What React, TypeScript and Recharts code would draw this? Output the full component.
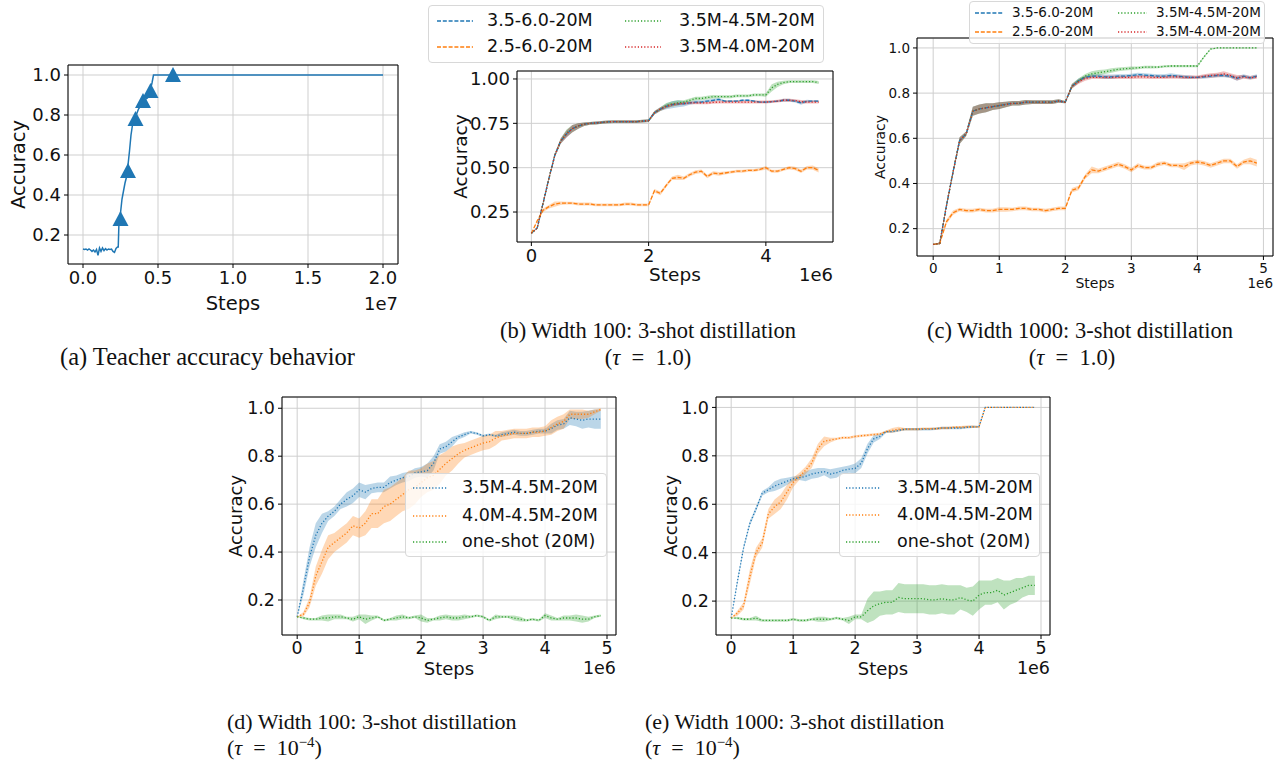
import { Fragment, ReactNode } from "react";
import {
  ComposedChart,
  Line,
  Area,
  Scatter,
  XAxis,
  YAxis,
  CartesianGrid,
  ReferenceArea,
  Legend,
  Label,
} from "recharts";

const FONT = "'DejaVu Sans', sans-serif";
const SERIF = "'Liberation Serif', 'Times New Roman', serif";
const BLUE = "#1f77b4";
const ORANGE = "#ff7f0e";
const GREEN = "#2ca02c";
const RED = "#d62728";
const DASHED = "4 1.8";
const DOTTED = "1.2 2";

// training steps (millions) shared by panels b-e
const stepsM = [
  0, 0.1, 0.2, 0.3, 0.4, 0.5, 0.6, 0.7, 0.8, 0.9, 1.0, 1.1, 1.2, 1.3, 1.4, 1.5, 1.6, 1.7, 1.8, 1.9,
  2.0, 2.1, 2.2, 2.3, 2.4, 2.5, 2.6, 2.7, 2.8, 2.9, 3.0, 3.1, 3.2, 3.3, 3.4, 3.5, 3.6, 3.7, 3.8, 3.9,
  4.0, 4.1, 4.2, 4.3, 4.4, 4.5, 4.6, 4.7, 4.8, 4.9,
];

// (a) teacher accuracy
const teacherStepsM = [
  0, 0.1, 0.2, 0.3, 0.4, 0.5, 0.6, 0.7, 0.8, 0.9, 1.0, 1.1, 1.2, 1.3, 1.4, 1.5, 1.6, 1.7, 1.8, 1.9,
  2.0, 2.1, 2.2, 2.3, 2.35, 2.4, 2.5, 2.6, 2.7, 2.8, 2.9, 3.0, 3.1, 3.2, 3.3, 3.4, 3.5, 3.6, 3.7, 3.8,
  3.9, 4.0, 4.1, 4.2, 4.3, 4.4, 4.5, 4.6, 4.7, 20,
];
const teacherAcc = [
  0.13, 0.128, 0.13, 0.125, 0.13, 0.125, 0.118, 0.125, 0.115, 0.128, 0.098, 0.135, 0.118, 0.135, 0.122, 0.132, 0.125, 0.13, 0.128, 0.13,
  0.118, 0.113, 0.133, 0.14, 0.14, 0.27, 0.31, 0.38, 0.42, 0.46, 0.49, 0.55, 0.62, 0.7, 0.75, 0.77, 0.79, 0.81, 0.83, 0.84,
  0.86, 0.87, 0.875, 0.88, 0.885, 0.9, 0.93, 0.96, 1.0, 1.0,
];
const checkpointStepsM = [2.5, 3.0, 3.5, 4.0, 4.5, 6.0];
const checkpointAcc = [0.28, 0.52, 0.78, 0.87, 0.92, 1.0];

// (b) width 100, tau = 1.0
const bBlue = [0.13,0.16,0.30,0.44,0.57,0.65,0.69,0.72,0.735,0.745, 0.75,0.752,0.755,0.758,0.76,0.76,0.76,0.76,0.76,0.762, 0.765,0.81,0.83,0.845,0.855,0.86,0.86,0.865,0.87,0.87, 0.875,0.88,0.885,0.875,0.875,0.875,0.88,0.88,0.875,0.87, 0.87,0.872,0.875,0.88,0.88,0.875,0.865,0.875,0.875,0.875];
const bOrange = [0.13,0.20,0.26,0.28,0.295,0.30,0.30,0.30,0.295,0.295, 0.295,0.29,0.29,0.29,0.29,0.29,0.295,0.295,0.29,0.29, 0.29,0.37,0.355,0.40,0.44,0.445,0.44,0.46,0.475,0.48, 0.45,0.47,0.465,0.47,0.475,0.48,0.48,0.485,0.485,0.49, 0.50,0.48,0.48,0.49,0.50,0.495,0.48,0.50,0.50,0.485];
const bGreen = [0.13,0.16,0.30,0.44,0.57,0.65,0.695,0.72,0.735,0.745, 0.75,0.752,0.755,0.758,0.76,0.76,0.76,0.76,0.76,0.762, 0.765,0.81,0.83,0.85,0.86,0.865,0.87,0.88,0.89,0.89, 0.895,0.90,0.90,0.90,0.90,0.905,0.905,0.905,0.91,0.91, 0.91,0.95,0.97,0.98,0.985,0.985,0.985,0.985,0.985,0.98];
const bRed = [0.13,0.16,0.30,0.44,0.57,0.65,0.69,0.72,0.735,0.745, 0.75,0.752,0.755,0.758,0.76,0.76,0.76,0.76,0.76,0.762, 0.765,0.81,0.83,0.845,0.855,0.86,0.862,0.865,0.865,0.865, 0.865,0.868,0.87,0.87,0.87,0.87,0.87,0.87,0.87,0.87, 0.87,0.872,0.875,0.88,0.88,0.878,0.872,0.87,0.87,0.87];
const bBlueSd = [0,0.005,0.01,0.01,0.01,0.015,0.02,0.02,0.015,0.01, 0.008,0.008,0.008,0.008,0.008,0.008,0.008,0.008,0.008,0.008, 0.008,0.01,0.01,0.015,0.02,0.02,0.015,0.01,0.01,0.008, 0.008,0.008,0.008,0.005,0.005,0.005,0.005,0.005,0.005,0.005, 0.005,0.005,0.005,0.008,0.008,0.008,0.01,0.008,0.005,0.005];
const bOrangeSd = [0,0.005,0.01,0.01,0.015,0.01,0.008,0.008,0.008,0.008, 0.008,0.008,0.008,0.008,0.008,0.008,0.008,0.008,0.008,0.008, 0.008,0.01,0.01,0.01,0.01,0.015,0.01,0.01,0.01,0.01, 0.01,0.01,0.01,0.008,0.008,0.008,0.008,0.008,0.008,0.008, 0.01,0.008,0.008,0.008,0.01,0.01,0.01,0.01,0.012,0.012];
const bGreenSd = [0,0.005,0.01,0.01,0.01,0.015,0.02,0.02,0.015,0.01, 0.008,0.008,0.008,0.008,0.008,0.008,0.008,0.008,0.008,0.008, 0.008,0.01,0.01,0.015,0.015,0.015,0.01,0.01,0.01,0.01, 0.01,0.01,0.008,0.008,0.008,0.008,0.008,0.008,0.008,0.008, 0.01,0.02,0.015,0.01,0.008,0.008,0.008,0.008,0.008,0.008];
const bRedSd = [0,0.005,0.01,0.01,0.01,0.015,0.02,0.02,0.015,0.01, 0.008,0.008,0.008,0.008,0.008,0.008,0.008,0.008,0.008,0.008, 0.008,0.01,0.01,0.01,0.01,0.008,0.008,0.008,0.008,0.008, 0.008,0.008,0.008,0.008,0.008,0.008,0.008,0.008,0.008,0.008, 0.008,0.008,0.008,0.008,0.008,0.008,0.01,0.008,0.008,0.008];

// (c) width 1000, tau = 1.0
const cBlue = [0.13,0.135,0.30,0.45,0.59,0.62,0.72,0.73,0.735,0.74, 0.745,0.75,0.755,0.755,0.76,0.76,0.76,0.76,0.76,0.765, 0.76,0.83,0.855,0.87,0.875,0.875,0.872,0.872,0.875,0.875, 0.878,0.882,0.88,0.878,0.875,0.875,0.878,0.875,0.872,0.87, 0.87,0.872,0.875,0.878,0.878,0.875,0.865,0.875,0.868,0.875];
const cOrange = [0.13,0.135,0.23,0.27,0.285,0.28,0.28,0.285,0.28,0.28, 0.285,0.285,0.285,0.29,0.29,0.285,0.285,0.28,0.285,0.29, 0.29,0.37,0.38,0.43,0.46,0.455,0.465,0.475,0.485,0.475, 0.46,0.48,0.47,0.47,0.485,0.49,0.48,0.48,0.475,0.49, 0.495,0.49,0.48,0.49,0.50,0.50,0.475,0.495,0.50,0.49];
const cGreen = [0.13,0.135,0.30,0.45,0.59,0.62,0.72,0.73,0.735,0.74, 0.745,0.75,0.755,0.755,0.76,0.76,0.76,0.76,0.76,0.765, 0.76,0.83,0.855,0.875,0.885,0.89,0.895,0.90,0.905,0.908, 0.91,0.912,0.915,0.915,0.915,0.918,0.92,0.92,0.92,0.92, 0.92,0.96,0.995,1.0,1.0,1.0,1.0,1.0,1.0,1.0];
const cRed = [0.13,0.135,0.30,0.45,0.59,0.62,0.72,0.73,0.735,0.74, 0.745,0.75,0.755,0.755,0.76,0.76,0.76,0.76,0.76,0.765, 0.76,0.83,0.85,0.865,0.87,0.87,0.87,0.87,0.87,0.87, 0.87,0.872,0.872,0.87,0.87,0.87,0.872,0.872,0.87,0.87, 0.87,0.875,0.878,0.88,0.885,0.878,0.868,0.872,0.868,0.872];
const cBlueSd = [0,0.005,0.01,0.01,0.015,0.01,0.02,0.02,0.02,0.015, 0.015,0.012,0.01,0.01,0.01,0.008,0.008,0.008,0.008,0.008, 0.005,0.01,0.01,0.008,0.008,0.008,0.01,0.01,0.008,0.008, 0.008,0.008,0.008,0.008,0.008,0.008,0.01,0.008,0.008,0.008, 0.005,0.008,0.008,0.008,0.008,0.008,0.01,0.008,0.008,0.008];
const cOrangeSd = [0,0.005,0.01,0.01,0.008,0.008,0.008,0.008,0.008,0.008, 0.01,0.01,0.008,0.008,0.008,0.008,0.008,0.008,0.008,0.008, 0.008,0.01,0.01,0.01,0.015,0.01,0.01,0.01,0.01,0.01, 0.01,0.01,0.008,0.008,0.01,0.008,0.008,0.008,0.015,0.01, 0.01,0.01,0.01,0.01,0.01,0.01,0.01,0.01,0.015,0.015];
const cGreenSd = [0,0.005,0.01,0.01,0.015,0.01,0.02,0.02,0.02,0.015, 0.015,0.012,0.01,0.01,0.01,0.008,0.008,0.008,0.008,0.008, 0.005,0.01,0.01,0.01,0.012,0.012,0.01,0.01,0.008,0.008, 0.008,0.006,0.006,0.006,0.005,0.005,0.005,0.005,0.005,0.005, 0.005,0.005,0.003,0.002,0.002,0.002,0.002,0.002,0.002,0.002];
const cRedSd = [0,0.005,0.01,0.01,0.015,0.01,0.02,0.02,0.02,0.015, 0.015,0.012,0.01,0.01,0.01,0.008,0.008,0.008,0.008,0.008, 0.005,0.01,0.01,0.01,0.008,0.008,0.008,0.008,0.008,0.008, 0.008,0.008,0.008,0.008,0.008,0.008,0.008,0.008,0.008,0.008, 0.008,0.008,0.01,0.01,0.012,0.01,0.012,0.008,0.008,0.008];

// (d) width 100, tau = 1e-4
const dBlue = [0.13,0.25,0.38,0.47,0.52,0.55,0.57,0.60,0.62,0.635, 0.66,0.65,0.665,0.67,0.67,0.69,0.70,0.71,0.715,0.73, 0.735,0.74,0.77,0.83,0.84,0.86,0.88,0.89,0.90,0.895, 0.885,0.89,0.885,0.89,0.895,0.90,0.895,0.895,0.90,0.905, 0.905,0.915,0.93,0.935,0.96,0.955,0.95,0.955,0.955,0.955];
const dOrange = [0.13,0.14,0.19,0.30,0.36,0.42,0.44,0.46,0.48,0.51, 0.50,0.52,0.56,0.56,0.59,0.60,0.62,0.64,0.66,0.67, 0.69,0.71,0.72,0.745,0.77,0.79,0.81,0.825,0.835,0.845, 0.855,0.86,0.875,0.885,0.89,0.895,0.895,0.895,0.90,0.90, 0.905,0.92,0.935,0.945,0.975,0.975,0.975,0.975,0.985,0.995];
const dGreen = [0.13,0.125,0.12,0.12,0.125,0.125,0.13,0.13,0.125,0.12, 0.13,0.12,0.125,0.13,0.115,0.12,0.125,0.13,0.125,0.13, 0.125,0.115,0.12,0.125,0.13,0.125,0.125,0.13,0.13,0.135, 0.13,0.115,0.13,0.13,0.13,0.125,0.12,0.115,0.12,0.115, 0.135,0.125,0.12,0.125,0.125,0.125,0.12,0.12,0.13,0.135];
const dBlueSd = [0,0.03,0.04,0.05,0.04,0.02,0.02,0.02,0.03,0.03, 0.03,0.03,0.02,0.02,0.02,0.025,0.02,0.02,0.02,0.02, 0.02,0.03,0.03,0.02,0.02,0.02,0.01,0.01,0.005,0.005, 0.005,0.005,0.005,0.01,0.01,0.01,0.01,0.01,0.01,0.01, 0.01,0.02,0.02,0.02,0.03,0.03,0.035,0.035,0.04,0.04];
const dOrangeSd = [0,0.01,0.02,0.04,0.05,0.05,0.04,0.04,0.04,0.04, 0.04,0.05,0.06,0.06,0.07,0.07,0.07,0.07,0.08,0.07, 0.06,0.06,0.06,0.06,0.05,0.05,0.04,0.03,0.03,0.03, 0.03,0.03,0.03,0.02,0.02,0.02,0.02,0.02,0.02,0.02, 0.02,0.03,0.03,0.03,0.02,0.02,0.02,0.015,0.01,0.005];
const dGreenSd = [0,0.005,0.005,0.005,0.01,0.015,0.01,0.01,0.005,0.01, 0.01,0.02,0.01,0.005,0.005,0.005,0.01,0.01,0.005,0.005, 0.015,0.01,0.005,0.01,0.01,0.01,0.01,0.01,0.005,0.005, 0.005,0.005,0.01,0.005,0.005,0.01,0.01,0.005,0.005,0.005, 0.01,0.01,0.005,0.01,0.01,0.015,0.015,0.01,0.005,0.005];

// (e) width 1000, tau = 1e-4
const eBlue = [0.13,0.28,0.42,0.52,0.58,0.645,0.66,0.675,0.685,0.695, 0.705,0.71,0.715,0.725,0.73,0.735,0.725,0.73,0.74,0.745, 0.748,0.77,0.83,0.87,0.88,0.90,0.90,0.905,0.91,0.91, 0.91,0.91,0.91,0.912,0.915,0.915,0.915,0.915,0.918,0.92, 0.92,1.0,1.0,1.0,1.0,1.0,1.0,1.0,1.0,1.0];
const eOrange = [0.13,0.15,0.18,0.30,0.40,0.44,0.56,0.59,0.61,0.65, 0.69,0.715,0.74,0.77,0.83,0.86,0.865,0.87,0.875,0.875, 0.88,0.883,0.885,0.888,0.89,0.90,0.905,0.91,0.91,0.91, 0.91,0.912,0.912,0.912,0.915,0.915,0.918,0.918,0.92,0.92, 0.92,1.0,1.0,1.0,1.0,1.0,1.0,1.0,1.0,1.0];
const eGreen = [0.13,0.13,0.125,0.125,0.13,0.12,0.12,0.12,0.12,0.12, 0.125,0.12,0.12,0.125,0.125,0.125,0.125,0.13,0.125,0.12, 0.135,0.135,0.16,0.18,0.19,0.195,0.195,0.215,0.21,0.21, 0.21,0.21,0.205,0.205,0.21,0.205,0.205,0.215,0.205,0.20, 0.225,0.235,0.235,0.245,0.225,0.235,0.245,0.255,0.265,0.265];
const eBlueSd = [0,0.01,0.01,0.01,0.01,0.01,0.01,0.02,0.02,0.015, 0.01,0.01,0.02,0.02,0.02,0.015,0.02,0.02,0.015,0.015, 0.02,0.02,0.02,0.015,0.01,0.005,0.005,0.005,0.005,0.005, 0.005,0.005,0.005,0.005,0.005,0.005,0.005,0.005,0.005,0.005, 0.003,0,0,0,0,0,0,0,0,0];
const eOrangeSd = [0,0.01,0.015,0.03,0.02,0.02,0.02,0.03,0.03,0.03, 0.02,0.015,0.015,0.02,0.02,0.02,0.01,0.005,0.005,0.005, 0.005,0.005,0.005,0.005,0.005,0.005,0.01,0.01,0.005,0.005, 0.005,0.005,0.005,0.005,0.005,0.005,0.005,0.005,0.005,0.005, 0.003,0,0,0,0,0,0,0,0,0];
const eGreenSd = [0,0.005,0.005,0.005,0.01,0.005,0.005,0.005,0.005,0.005, 0.005,0.005,0.005,0.005,0.01,0.01,0.005,0.005,0.005,0.015, 0.01,0.01,0.05,0.06,0.05,0.05,0.05,0.06,0.06,0.06, 0.06,0.06,0.06,0.06,0.06,0.06,0.06,0.05,0.05,0.06, 0.06,0.05,0.05,0.05,0.06,0.05,0.05,0.04,0.04,0.04];

type Series = { key: string; name: string; color: string; dash: string; mean: number[]; sd: number[] };

const seriesB: Series[] = [
  { key: "s1", name: "3.5-6.0-20M", color: BLUE, dash: DASHED, mean: bBlue, sd: bBlueSd },
  { key: "s2", name: "2.5-6.0-20M", color: ORANGE, dash: DASHED, mean: bOrange, sd: bOrangeSd },
  { key: "s3", name: "3.5M-4.5M-20M", color: GREEN, dash: DOTTED, mean: bGreen, sd: bGreenSd },
  { key: "s4", name: "3.5M-4.0M-20M", color: RED, dash: DOTTED, mean: bRed, sd: bRedSd },
];
const seriesC: Series[] = [
  { key: "s1", name: "3.5-6.0-20M", color: BLUE, dash: DASHED, mean: cBlue, sd: cBlueSd },
  { key: "s2", name: "2.5-6.0-20M", color: ORANGE, dash: DASHED, mean: cOrange, sd: cOrangeSd },
  { key: "s3", name: "3.5M-4.5M-20M", color: GREEN, dash: DOTTED, mean: cGreen, sd: cGreenSd },
  { key: "s4", name: "3.5M-4.0M-20M", color: RED, dash: DOTTED, mean: cRed, sd: cRedSd },
];
const seriesD: Series[] = [
  { key: "s1", name: "3.5M-4.5M-20M", color: BLUE, dash: DOTTED, mean: dBlue, sd: dBlueSd },
  { key: "s2", name: "4.0M-4.5M-20M", color: ORANGE, dash: DOTTED, mean: dOrange, sd: dOrangeSd },
  { key: "s3", name: "one-shot (20M)", color: GREEN, dash: DOTTED, mean: dGreen, sd: dGreenSd },
];
const seriesE: Series[] = [
  { key: "s1", name: "3.5M-4.5M-20M", color: BLUE, dash: DOTTED, mean: eBlue, sd: eBlueSd },
  { key: "s2", name: "4.0M-4.5M-20M", color: ORANGE, dash: DOTTED, mean: eOrange, sd: eOrangeSd },
  { key: "s3", name: "one-shot (20M)", color: GREEN, dash: DOTTED, mean: eGreen, sd: eGreenSd },
];

function buildRows(series: Series[]) {
  return stepsM.map((s, i) => {
    const row: any = { step: s * 1e6 };
    series.forEach((d) => {
      row[d.key] = d.mean[i];
      row[d.key + "Band"] = [d.mean[i] - d.sd[i], d.mean[i] + d.sd[i]];
    });
    return row;
  });
}

const teacherData = teacherStepsM.map((s, i) => ({ step: s * 1e6, acc: teacherAcc[i] }));
const checkpointData = checkpointStepsM.map((s, i) => ({ step: s * 1e6, acc: checkpointAcc[i] }));

type LegendLayout = {
  left: number; top: number; width: number; height: number; fs: number;
  handleW: number; colX: number[]; textX: number[]; rowY: number[];
};

function LegendBox({ series, layout }: { series: Series[]; layout: LegendLayout }) {
  const nRows = layout.rowY.length;
  return (
    <div
      style={{
        position: "relative",
        width: layout.width,
        height: layout.height,
        boxSizing: "border-box",
        background: "rgba(255,255,255,0.8)",
        border: "1px solid #d8d8d8",
        borderRadius: 4,
        fontFamily: FONT,
        fontSize: layout.fs,
        color: "#111",
      }}
    >
      {series.map((s, i) => {
        const c = Math.floor(i / nRows);
        const y = layout.rowY[i % nRows];
        return (
          <Fragment key={s.key}>
            <svg style={{ position: "absolute", left: layout.colX[c], top: y - 4 }} width={layout.handleW} height={8}>
              <line x1={0} y1={4} x2={layout.handleW} y2={4} stroke={s.color} strokeWidth={1.3} strokeDasharray={s.dash} />
            </svg>
            <span style={{ position: "absolute", left: layout.textX[c], top: y, transform: "translateY(-50%)", whiteSpace: "nowrap", lineHeight: 1 }}>
              {s.name}
            </span>
          </Fragment>
        );
      })}
    </div>
  );
}

type PanelProps = {
  box: [number, number, number, number];
  xDomain: [number, number];
  xTicks: number[];
  xFmt: (v: number) => string;
  yDomain: [number, number];
  yTicks: number[];
  yFmt: (v: number) => string;
  fs: number;
  labelFs: number;
  yLabelDx: number;
  xLabelDy: number;
  offsetText: string;
  series?: Series[];
  legend?: LegendLayout;
  children?: ReactNode;
};

const PL = 80;
const PT = 75;
const PR = 20;
const PB = 60;

function Panel(p: PanelProps) {
  const [x0, y0, x1, y1] = p.box;
  const left = x0 - PL;
  const top = y0 - PT;
  const width = x1 - x0 + PL + PR;
  const height = y1 - y0 + PT + PB;
  const tick = { fontSize: p.fs, fill: "#111" };
  const rows = p.series ? buildRows(p.series) : undefined;

  return (
    <div style={{ position: "absolute", left, top, fontFamily: FONT }}>
      <ComposedChart width={width} height={height} data={rows} margin={{ top: PT, right: PR, left: 0, bottom: 0 }}>
        <CartesianGrid stroke="#cfcfcf" strokeWidth={1} />
        <XAxis
          type="number"
          dataKey="step"
          domain={p.xDomain}
          allowDataOverflow
          ticks={p.xTicks}
          interval={0}
          tickFormatter={p.xFmt}
          height={PB}
          tick={tick}
          tickSize={4}
          tickMargin={3}
          stroke="#000"
          axisLine={false}
        >
          <Label
            content={(lp: any) => {
              const vb = lp.viewBox;
              return (
                <text x={vb.x + vb.width / 2} y={vb.y + p.xLabelDy} textAnchor="middle" dominantBaseline="central" fontSize={p.labelFs} fill="#111">
                  Steps
                </text>
              );
            }}
          />
          <Label
            content={(lp: any) => {
              const vb = lp.viewBox;
              return (
                <text x={vb.x + vb.width} y={vb.y + p.xLabelDy} textAnchor="end" dominantBaseline="central" fontSize={p.fs} fill="#111">
                  {p.offsetText}
                </text>
              );
            }}
          />
        </XAxis>
        <YAxis
          type="number"
          domain={p.yDomain}
          allowDataOverflow
          ticks={p.yTicks}
          interval={0}
          tickFormatter={p.yFmt}
          width={PL}
          tick={tick}
          tickSize={4}
          tickMargin={3}
          stroke="#000"
          axisLine={false}
        >
          <Label
            content={(lp: any) => {
              const vb = lp.viewBox;
              const cx = vb.x + vb.width + p.yLabelDx;
              const cy = vb.y + vb.height / 2;
              return (
                <text x={cx} y={cy} transform={`rotate(-90 ${cx} ${cy})`} textAnchor="middle" dominantBaseline="central" fontSize={p.labelFs} fill="#111">
                  Accuracy
                </text>
              );
            }}
          />
        </YAxis>
        {p.series?.map((s) => (
          <Fragment key={s.key}>
            <Area
              dataKey={s.key + "Band"}
              type="linear"
              stroke="none"
              fill={s.color}
              fillOpacity={0.3}
              dot={false}
              activeDot={false}
              legendType="none"
              isAnimationActive={false}
            />
            <Line
              dataKey={s.key}
              type="linear"
              stroke={s.color}
              strokeWidth={1.3}
              strokeDasharray={s.dash}
              dot={false}
              activeDot={false}
              isAnimationActive={false}
            />
          </Fragment>
        ))}
        {p.children}
        <ReferenceArea
          x1={p.xDomain[0]}
          x2={p.xDomain[1]}
          y1={p.yDomain[0]}
          y2={p.yDomain[1]}
          fill="none"
          stroke="#000"
          strokeWidth={1}
          ifOverflow="visible"
        />
        {p.legend && p.series && (
          <Legend
            layout="horizontal"
            verticalAlign="middle"
            align="center"
            content={() => <LegendBox series={p.series as Series[]} layout={p.legend as LegendLayout} />}
            wrapperStyle={{
              left: p.legend.left - left,
              top: p.legend.top - top,
              width: p.legend.width,
              height: p.legend.height,
              right: "auto",
              bottom: "auto",
              margin: 0,
            }}
          />
        )}
      </ComposedChart>
    </div>
  );
}

const fmt1 = (v: number) => v.toFixed(1);
const fmt2 = (v: number) => v.toFixed(2);
const fmtM = (v: number) => String(Math.round(v / 1e6));
const fmt7 = (v: number) => (v / 1e7).toFixed(1);
const STD_X: [number, number] = [-0.245e6, 5.145e6];
const TICKS_5 = [0, 1e6, 2e6, 3e6, 4e6, 5e6];
const TICKS_Y = [0.2, 0.4, 0.6, 0.8, 1.0];

const Triangle = (props: any) => {
  const { cx, cy } = props;
  return <polygon points={`${cx},${cy - 8} ${cx - 8},${cy + 7} ${cx + 8},${cy + 7}`} fill={BLUE} />;
};

const captionStyle = {
  position: "absolute" as const,
  fontFamily: SERIF,
  fontSize: 22,
  lineHeight: "26px",
  whiteSpace: "nowrap" as const,
  color: "#111",
};
const EQ = "\u2002=\u2002";

export default function App() {
  return (
    <div style={{ position: "absolute", left: 0, top: 0, width: 1284, height: 767, background: "#fff", overflow: "hidden" }}>
      <Panel
        box={[68, 65, 398, 264]}
        xDomain={[-1e6, 2.1e7]}
        xTicks={[0, 5e6, 1e7, 1.5e7, 2e7]}
        xFmt={fmt7}
        yDomain={[0.055, 1.05]}
        yTicks={TICKS_Y}
        yFmt={fmt1}
        fs={18}
        labelFs={19.5}
        yLabelDx={-50}
        xLabelDy={39}
        offsetText="1e7"
      >
        <Line data={teacherData} dataKey="acc" type="linear" stroke={BLUE} strokeWidth={1.5} dot={false} activeDot={false} isAnimationActive={false} />
        <Scatter data={checkpointData} dataKey="acc" shape={Triangle} isAnimationActive={false} />
      </Panel>

      <Panel
        box={[517, 71, 833, 242]}
        xDomain={STD_X}
        xTicks={[0, 2e6, 4e6]}
        xFmt={fmtM}
        yDomain={[0.081, 1.045]}
        yTicks={[0.25, 0.5, 0.75, 1.0]}
        yFmt={fmt2}
        fs={18}
        labelFs={18.5}
        yLabelDx={-57}
        xLabelDy={32}
        offsetText="1e6"
        series={seriesB}
        legend={{ left: 428, top: 5, width: 396, height: 58, fs: 17.5, handleW: 36, colX: [8, 196], textX: [58, 250], rowY: [15, 41] }}
      />

      <Panel
        box={[917, 38, 1273, 256]}
        xDomain={STD_X}
        xTicks={TICKS_5}
        xFmt={fmtM}
        yDomain={[0.079, 1.044]}
        yTicks={TICKS_Y}
        yFmt={fmt1}
        fs={13.5}
        labelFs={14}
        yLabelDx={-37}
        xLabelDy={27}
        offsetText="1e6"
        series={seriesC}
        legend={{ left: 969, top: 1, width: 296, height: 43, fs: 13.5, handleW: 29, colX: [5, 148], textX: [42, 186], rowY: [11, 30] }}
      />

      <Panel
        box={[282, 397, 616, 635]}
        xDomain={STD_X}
        xTicks={TICKS_5}
        xFmt={fmtM}
        yDomain={[0.054, 1.047]}
        yTicks={TICKS_Y}
        yFmt={fmt1}
        fs={17.5}
        labelFs={18}
        yLabelDx={-47}
        xLabelDy={33}
        offsetText="1e6"
        series={seriesD}
        legend={{ left: 405, top: 473, width: 202, height: 84, fs: 17.5, handleW: 35, colX: [7], textX: [56], rowY: [14, 42, 68] }}
      />

      <Panel
        box={[716, 397, 1050, 635]}
        xDomain={STD_X}
        xTicks={TICKS_5}
        xFmt={fmtM}
        yDomain={[0.06, 1.043]}
        yTicks={TICKS_Y}
        yFmt={fmt1}
        fs={17.5}
        labelFs={18}
        yLabelDx={-46}
        xLabelDy={33}
        offsetText="1e6"
        series={seriesE}
        legend={{ left: 839, top: 473, width: 201, height: 84, fs: 17.5, handleW: 35, colX: [6], textX: [57], rowY: [14, 41, 68] }}
      />

      <div style={{ ...captionStyle, fontSize: 24.5, left: 60, top: 344 }}>(a) Teacher accuracy behavior</div>

      <div style={{ ...captionStyle, fontSize: 22.5, left: 448, top: 318, width: 400, textAlign: "center" }}>(b) Width 100: 3-shot distillation</div>
      <div style={{ ...captionStyle, fontSize: 22.5, left: 448, top: 345, width: 400, textAlign: "center" }}>
        (<i>τ</i>{EQ}1.0)
      </div>

      <div style={{ ...captionStyle, fontSize: 22.5, left: 880, top: 318, width: 400, textAlign: "center" }}>(c) Width 1000: 3-shot distillation</div>
      <div style={{ ...captionStyle, fontSize: 22.5, left: 872, top: 345, width: 400, textAlign: "center" }}>
        (<i>τ</i>{EQ}1.0)
      </div>

      <div style={{ ...captionStyle, left: 227, top: 709 }}>(d) Width 100: 3-shot distillation</div>
      <div style={{ ...captionStyle, left: 227, top: 735 }}>
        (<i>τ</i>{EQ}10<sup style={{ fontSize: 15, lineHeight: 0 }}>−4</sup>)
      </div>

      <div style={{ ...captionStyle, left: 645, top: 709 }}>(e) Width 1000: 3-shot distillation</div>
      <div style={{ ...captionStyle, left: 645, top: 735 }}>
        (<i>τ</i>{EQ}10<sup style={{ fontSize: 15, lineHeight: 0 }}>−4</sup>)
      </div>
    </div>
  );
}
